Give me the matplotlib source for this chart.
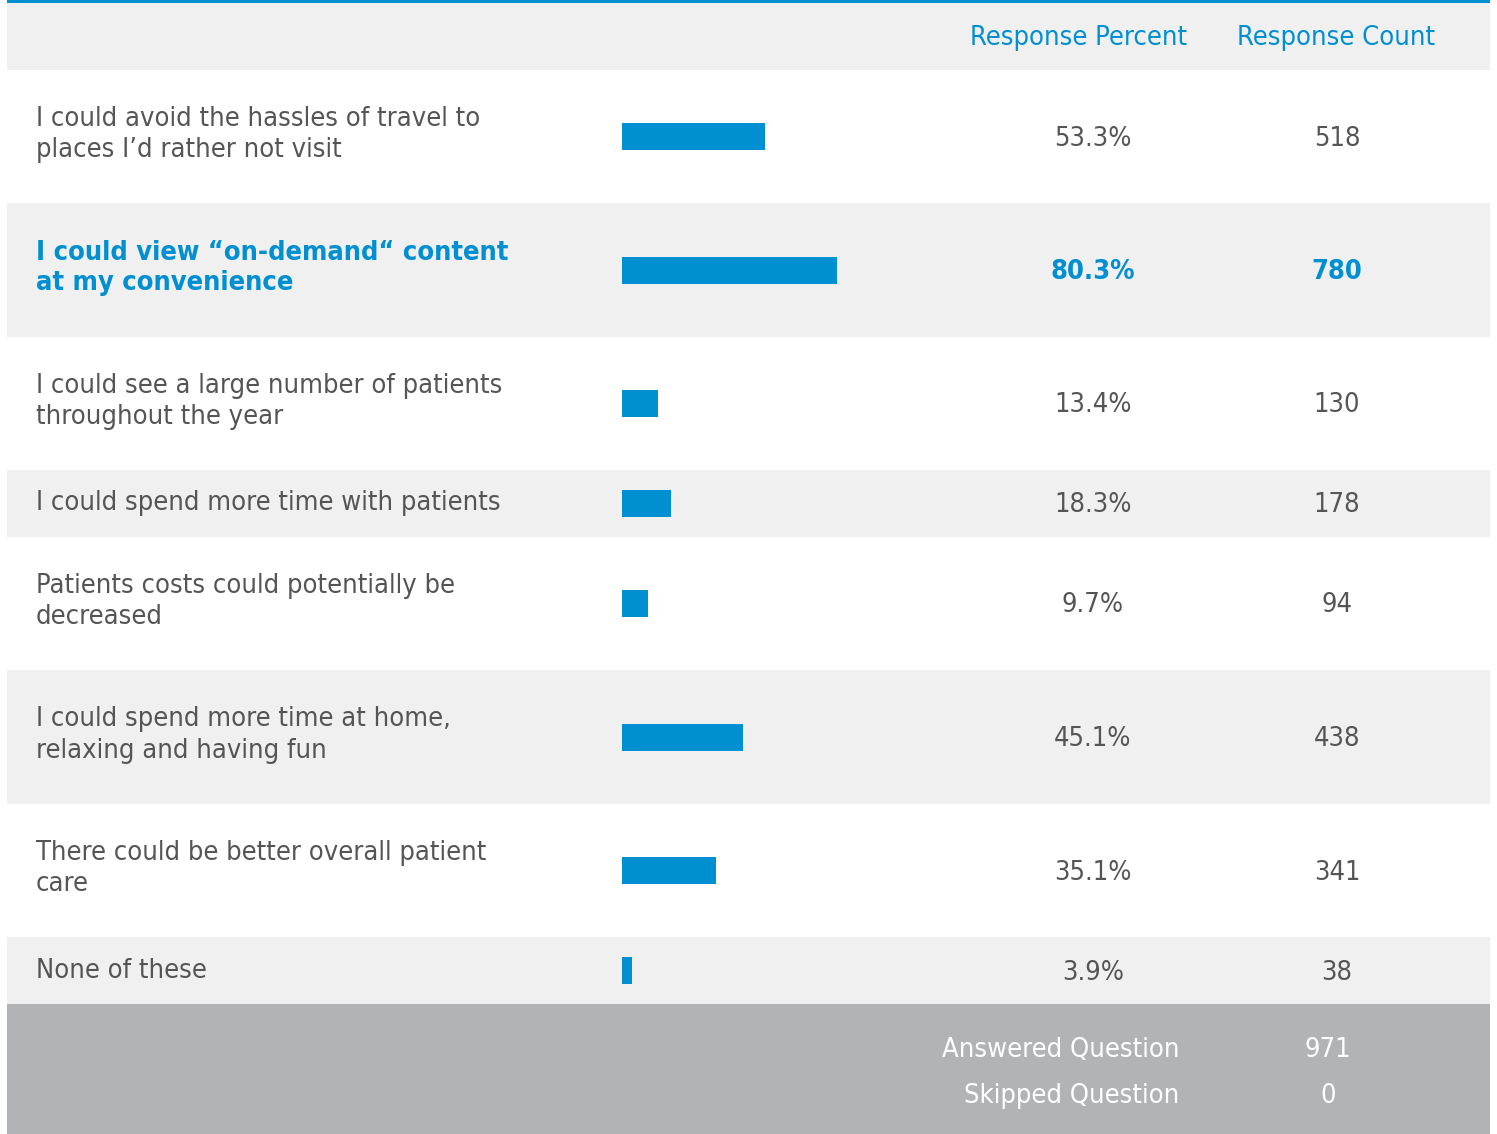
import matplotlib.pyplot as plt
from matplotlib.patches import Rectangle

plt.rcParams['font.family'] = ['DejaVu Sans']
plt.rcParams['font.stretch'] = 'condensed'

# --- data ---
labels = [
    "I could avoid the hassles of travel to\nplaces I\u2019d rather not visit",
    "I could view \u201con-demand\u201c content\nat my convenience",
    "I could see a large number of patients\nthroughout the year",
    "I could spend more time with patients",
    "Patients costs could potentially be\ndecreased",
    "I could spend more time at home,\nrelaxing and having fun",
    "There could be better overall patient\ncare",
    "None of these",
]
percents = [53.3, 80.3, 13.4, 18.3, 9.7, 45.1, 35.1, 3.9]
counts = [518, 780, 130, 178, 94, 438, 341, 38]
highlight = 1
headers = ["Response Percent", "Response Count"]
footer_labels = ["Answered Question", "Skipped Question"]
footer_values = [971, 0]

# --- style ---
W, H = 1497, 1134
blue = "#008fd0"
grey_row = "#f0f0f0"
footer_grey = "#b2b3b5"
text_grey = "#555555"
left, right = 7, 1490
row_edges = [70, 203, 337, 470, 537, 670, 804, 937, 1004]
fs = 19.5

fig = plt.figure(figsize=(W / 100, H / 100), dpi=100)
ax = fig.add_axes([0, 0, 1, 1])
ax.set_xlim(0, W)
ax.set_ylim(H, 0)
ax.axis("off")

# top rule and header
ax.add_patch(Rectangle((left, 0), right - left, 3, color=blue, lw=0))
ax.add_patch(Rectangle((left, 3), right - left, row_edges[0] - 3, color=grey_row, lw=0))
ax.text(1079, 38, headers[0], color=blue, fontsize=fs, ha="center", va="center")
ax.text(1336, 38, headers[1], color=blue, fontsize=fs, ha="center", va="center")

centers = []
for i in range(len(labels)):
    top, bot = row_edges[i], row_edges[i + 1]
    c = (top + bot) / 2
    centers.append(c)
    if i % 2 == 1:
        ax.add_patch(Rectangle((left, top), right - left, bot - top, color=grey_row, lw=0))
    hl = i == highlight
    col = blue if hl else text_grey
    fw = "bold" if hl else "normal"
    two_line = "\n" in labels[i]
    ax.text(36, c - (2 if two_line else 0), labels[i], color=col, fontsize=fs,
            fontweight=fw, ha="left", va="center", linespacing=1.25)
    ax.text(1093, c + 2, f"{percents[i]}%", color=col, fontsize=fs, fontweight=fw,
            ha="center", va="center")
    ax.text(1337, c + 2, str(counts[i]), color=col, fontsize=fs, fontweight=fw,
            ha="center", va="center")

# footer
ax.add_patch(Rectangle((left, row_edges[-1]), right - left, H - row_edges[-1],
                       color=footer_grey, lw=0))
for j, (lab, val) in enumerate(zip(footer_labels, footer_values)):
    y = 1050 + j * 46
    ax.text(1179, y, lab, color="white", fontsize=fs, ha="right", va="center")
    ax.text(1328, y, str(val), color="white", fontsize=fs, ha="center", va="center")

# bars on their own axis: 0-100 % spans 268 px starting at x=622
bx = fig.add_axes([622 / W, 0, 268 / W, 1])
bx.set_xlim(0, 100)
bx.set_ylim(H, 0)
bx.axis("off")
bx.patch.set_alpha(0)
bx.barh(centers, percents, height=27, color=blue, left=0)

fig.savefig("out.png", dpi=100)
